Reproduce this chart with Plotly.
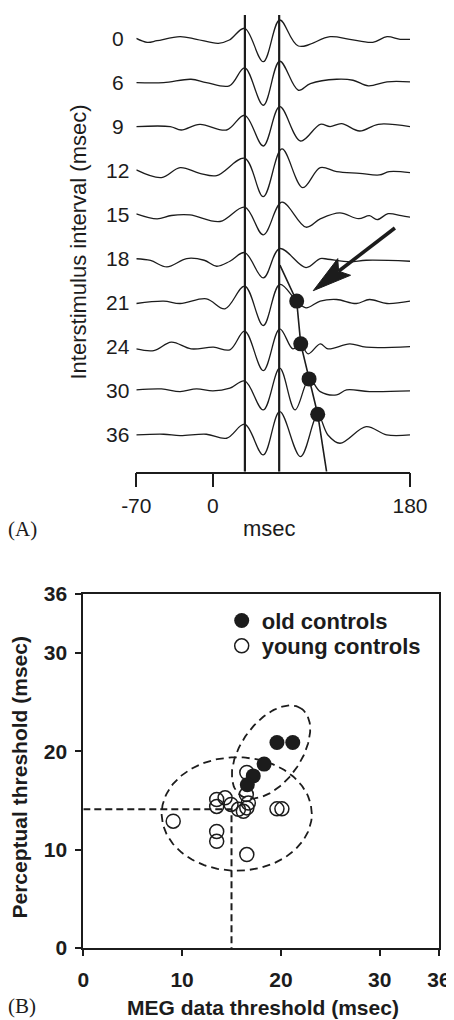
import numpy as np
import plotly.graph_objects as go

# The page body adds an 8px margin, so the figure is drawn 8px in from the
# top-left corner of the 454x1020 window; size it to fill the rest exactly.
PAGE_W, PAGE_H, BODY = 454, 1020, 8
W, H = PAGE_W - BODY, PAGE_H - BODY
FONT = "Liberation Sans, Arial, Helvetica, sans-serif"
SERIF = "Liberation Serif, Times New Roman, serif"
INK = "#1c1c1c"

# ---------------- Panel A data (MEG waveforms, ms vs amplitude) ----------------
isi_labels = ["0", "6", "9", "12", "15", "18", "21", "24", "30", "36"]
row_gap = 44.05  # vertical offset between stacked waveforms (amplitude units)

t_isi0 = [-70, -60, -51, -30, -15, 5, 15, 29, 46, 61, 78, 107, 125, 146, 159, 171, 180]
a_isi0 = [0.2, -3.8, -2.2, 1.8, -0.8, -4.8, -1.5, 10.2, -23.2, 18.5, -7.5, 1.8, -0.8, -3.8, 1.8, -0.8, -0.8]

t_isi6 = [-70, -45, -20, -6, 15, 29, 46, 61, 78, 89, 113, 128, 142, 159, 180]
a_isi6 = [0, 0, 3.3, 0, -3.3, 14.7, -22.7, 21.3, -7.7, -1, 3.3, 2.3, -3.3, 0.7, 0.7]

t_isi9 = [-70, -39, -29, -12, 12.5, 29, 46, 61, 80, 98, 107, 117.5, 134, 151, 180]
a_isi9 = [0, 0, -3.4, 2.3, -3.4, 11.3, -19.4, 20, -14.4, 2.3, 0, 3, -4.4, 2.3, 0]

t_isi12 = [-70, -47, -30, -12, 3.4, 29, 46, 63, 82, 98, 113, 134, 152, 161, 180]
a_isi12 = [0.7, -7, 3, -2.7, -5, 12.3, -26, 21.7, -17, 3, -1, -2.7, -4.3, -1, -2]

t_isi15 = [-70, -51, -38, -21, 6.5, 29, 46, 63, 85, 98, 116, 133, 143, 150, 160, 172, 180]
a_isi15 = [0.8, -4.2, -0.8, -0.2, -6.8, 7.5, -20.2, 12.5, -12.5, -4.2, 1.8, -4, -1, -5, 1, -1, -2.5]

t_isi18 = [-70, -57, -42, -24, -8, 3.4, 15.5, 29, 46, 61, 85, 98, 105, 125, 140, 180]
a_isi18 = [0, -1.7, -8.2, 0.2, -1.5, -7.5, -2.5, 6.2, -19.2, 10.2, -8.8, 0.2, -0.5, -3.2, -1.5, -2.5]

t_isi21 = [-70, -45, -30, -6, 11, 29, 46, 61, 76.5, 85, 98, 113, 131, 143, 159, 180]
a_isi21 = [-0.7, 1.7, -0.7, 4, -6, 16.7, -22.7, 18.3, 1.7, -5, 1.7, 3.3, -0.7, 3.3, -0.7, 1.7]

t_isi24 = [-70, -54, -38, -20, 0.5, 15.5, 29, 46, 61, 73, 80, 87, 98, 105, 125, 140, 180]
a_isi24 = [-2, -3.7, 4.7, -2, -0.3, -3, 15.7, -23.7, 18, -2, 3, -7, 3, -2, 3, -0.3, 0.3]

t_isi30 = [-70, -47, -30, -15, 0, 15.5, 29, 46, 61, 75, 88, 98, 113, 122, 143, 180]
a_isi30 = [1, 2, -0.7, 2, 0, 2.7, 10, -19, 22.7, -19, 12, -0.7, -4, 1, -0.7, 0]

t_isi36 = [-70, -45, -30, -6, 12.5, 29, 46, 61, 80, 95.7, 105, 116, 140, 158.6, 180]
a_isi36 = [0, 0.7, -0.7, 0.7, -3.3, 10.7, -20, 23.3, -21.7, 20, 0, -8.3, 8.3, 0, 0]

ref_lines_ms = [29.2, 60.5]          # the two vertical reference lines
xA_ticks = [-70, 0, 180]

# late-peak markers (ISI, latency ms, amplitude)
peak_isi = ["21", "24", "30", "36"]
peak_lat = [76.5, 80.2, 87.8, 95.7]
peak_amp = [1.7, 3.0, 12.0, 20.7]
slope_start = (61.2, "18", -6.3)      # latency, ISI row, amplitude
slope_end_ms = 103.8

arrow_tail = (166.2, -189.5)          # (ms, stacked amplitude units)
arrow_tip = (91.6, -252.2)

# ---------------- Panel B data ----------------
old_x = [19.6, 21.2, 18.3, 17.2, 16.6]
old_y = [20.9, 20.9, 18.7, 17.5, 16.6]
young_x = [16.55, 16.5, 13.5, 14.35, 13.5, 14.95, 15.7, 16.2, 16.55, 16.7, 19.6, 20.1, 9.1, 13.5, 13.5, 16.55]
young_y = [17.85, 15.6, 15.1, 15.27, 14.4, 14.6, 14.1, 13.9, 14.25, 14.75, 14.15, 14.15, 12.9, 11.85, 10.85, 9.5]
thr_x = 15.0
thr_y = 14.1
ellipse_young = dict(cx=15.53, cy=13.63, a=7.6, b=5.77, ang=0.0)
ellipse_old = dict(cx=19.0, cy=19.93, a=5.38, b=3.04, ang=55.0)
xyB_ticks = [0, 10, 20, 30, 36]

# ---------------- geometry (window pixels -> paper fractions) ----------------
def px(xp):
    return (xp - BODY) / W

def py(yp):
    return 1 - (yp - BODY) / H

A_left, A_right = 136.3, 410.0
A_top, A_bottom = 10.0, 471.7
A_base0 = 38.5
yA_range = [A_base0 - A_bottom, A_base0 - A_top]  # 1 unit == 1 px
line_top = A_base0 - 15.0

B_left, B_right = 83.3, 439.0
B_top, B_bottom = 594.0, 948.0

fig = go.Figure()

rows = [(isi_labels[0], t_isi0, a_isi0), (isi_labels[1], t_isi6, a_isi6),
        (isi_labels[2], t_isi9, a_isi9), (isi_labels[3], t_isi12, a_isi12),
        (isi_labels[4], t_isi15, a_isi15), (isi_labels[5], t_isi18, a_isi18),
        (isi_labels[6], t_isi21, a_isi21), (isi_labels[7], t_isi24, a_isi24),
        (isi_labels[8], t_isi30, a_isi30), (isi_labels[9], t_isi36, a_isi36)]

def row_off(label):
    return -isi_labels.index(label) * row_gap

for lab, t, a in rows:
    off = row_off(lab)
    fig.add_trace(go.Scatter(x=t, y=[off + v for v in a], mode="lines",
                             line=dict(color=INK, width=1.3, shape="spline", smoothing=1.0),
                             xaxis="x", yaxis="y", showlegend=False, hoverinfo="skip"))
    fig.add_annotation(x=px(117.5), xref="paper", y=off, yref="y", text=lab, showarrow=False,
                       font=dict(family=FONT, size=21, color=INK), xanchor="center", yanchor="middle")

for v in ref_lines_ms:
    fig.add_shape(type="line", xref="x", yref="y", x0=v, x1=v, y0=line_top, y1=yA_range[0],
                  line=dict(color=INK, width=2.2))

# slope line through late peaks
sx = [slope_start[0]] + peak_lat + [slope_end_ms]
sy = ([row_off(slope_start[1]) + slope_start[2]] +
      [row_off(r) + a for r, a in zip(peak_isi, peak_amp)] + [yA_range[0]])
fig.add_trace(go.Scatter(x=sx, y=sy, mode="lines", line=dict(color=INK, width=1.6),
                         xaxis="x", yaxis="y", showlegend=False, hoverinfo="skip"))
fig.add_trace(go.Scatter(x=peak_lat, y=[row_off(r) + a for r, a in zip(peak_isi, peak_amp)],
                         mode="markers", marker=dict(color=INK, size=15),
                         xaxis="x", yaxis="y", showlegend=False, hoverinfo="skip"))

# arrow (shaft + notched head), built in pixel space from tip/tail
kx = (A_right - A_left) / (180 - (-70))
ky = 1.0
dx = (arrow_tip[0] - arrow_tail[0]) * kx
dy = (arrow_tip[1] - arrow_tail[1]) * ky
L = np.hypot(dx, dy)
ux, uy = dx / L, dy / L
nx_, ny_ = -uy, ux
head_len, half_w, notch = 39.0, 10.5, 7.0
pts = [(0, 0),
       (-head_len * ux + half_w * nx_, -head_len * uy + half_w * ny_),
       (-(head_len - notch) * ux, -(head_len - notch) * uy),
       (-head_len * ux - half_w * nx_, -head_len * uy - half_w * ny_),
       (0, 0)]
hx = [arrow_tip[0] + p[0] / kx for p in pts]
hy = [arrow_tip[1] + p[1] / ky for p in pts]
fig.add_trace(go.Scatter(x=[arrow_tail[0], hx[2]], y=[arrow_tail[1], hy[2]], mode="lines",
                         line=dict(color=INK, width=3.6), xaxis="x", yaxis="y",
                         showlegend=False, hoverinfo="skip"))
fig.add_trace(go.Scatter(x=hx, y=hy, mode="lines", fill="toself", fillcolor=INK,
                         line=dict(color=INK, width=1), xaxis="x", yaxis="y",
                         showlegend=False, hoverinfo="skip"))

# ---------------- Panel B ----------------
def ellipse(e, n=200):
    th = np.linspace(0, 2 * np.pi, n)
    c, s = np.cos(np.radians(e["ang"])), np.sin(np.radians(e["ang"]))
    ex = e["a"] * np.cos(th)
    ey = e["b"] * np.sin(th)
    return e["cx"] + ex * c - ey * s, e["cy"] + ex * s + ey * c

for e in (ellipse_young, ellipse_old):
    ex, ey = ellipse(e)
    fig.add_trace(go.Scatter(x=ex, y=ey, mode="lines",
                             line=dict(color=INK, width=1.8, dash="8px,5px"),
                             xaxis="x2", yaxis="y2", showlegend=False, hoverinfo="skip"))

fig.add_trace(go.Scatter(x=[0, thr_x, thr_x], y=[thr_y, thr_y, 0], mode="lines",
                         line=dict(color=INK, width=2, dash="7px,4px"),
                         xaxis="x2", yaxis="y2", showlegend=False, hoverinfo="skip"))

fig.add_trace(go.Scatter(x=young_x, y=young_y, mode="markers", name="young controls",
                         marker=dict(symbol="circle-open", size=14, color=INK, line=dict(width=1.5)),
                         xaxis="x2", yaxis="y2", legend="legend2", cliponaxis=False))
fig.add_trace(go.Scatter(x=old_x, y=old_y, mode="markers", name="old controls",
                         marker=dict(symbol="circle", size=15, color=INK),
                         xaxis="x2", yaxis="y2", legend="legend", cliponaxis=False))

# ---------------- text ----------------
def note(text, x, y, size, bold=False, family=FONT, angle=0):
    fig.add_annotation(x=px(x), y=py(y), xref="paper", yref="paper", text=text, showarrow=False,
                       textangle=angle, xanchor="center", yanchor="middle",
                       font=dict(family=family, size=size, color=INK,
                                 weight="bold" if bold else "normal"))

note("Interstimulus interval (msec)", 77.5, 242, 22, angle=-90)
note("msec", 269, 528, 22)
note("(A)", 22.5, 529, 21, family=SERIF)
note("Perceptual threshold (msec)", 18.5, 778, 21, bold=True, angle=-90)
note("MEG data threshold (msec)", 263, 1007, 21, bold=True)
note("(B)", 22.5, 1006, 21, family=SERIF)

axB = dict(range=[0, 36], showline=True, mirror=True, linecolor=INK, linewidth=2,
           ticks="outside", ticklen=6, tickwidth=2, tickcolor=INK,
           tickvals=xyB_ticks, ticktext=[str(v) for v in xyB_ticks],
           tickfont=dict(family=FONT, size=21, color=INK, weight="bold"),
           showgrid=False, zeroline=False, fixedrange=True, automargin=False)

leg = dict(xanchor="left", yanchor="middle", bgcolor="rgba(0,0,0,0)", borderwidth=0,
           font=dict(family=FONT, size=22, color=INK, weight="bold"), itemsizing="trace")

fig.update_layout(
    width=W, height=H, autosize=False,
    margin=dict(l=0, r=0, t=0, b=0, pad=0, autoexpand=False),
    paper_bgcolor="white", plot_bgcolor="rgba(0,0,0,0)",
    xaxis=dict(domain=[px(A_left), px(A_right)], range=[-70, 180], anchor="y",
               showline=True, linecolor=INK, linewidth=1.5, ticks="outside", ticklen=14,
               tickwidth=1.5, tickcolor=INK, tickvals=xA_ticks, ticktext=[str(v) for v in xA_ticks],
               tickfont=dict(family=FONT, size=21, color=INK), ticklabelstandoff=0,
               showgrid=False, zeroline=False, fixedrange=True, automargin=False),
    yaxis=dict(domain=[py(A_bottom), py(A_top)], range=yA_range, visible=False, fixedrange=True),
    xaxis2=dict(axB, domain=[px(B_left), px(B_right)], anchor="y2", ticklabelstandoff=6),
    yaxis2=dict(axB, domain=[py(B_bottom), py(B_top)], anchor="x2", ticklabelstandoff=4),
    legend=dict(leg, x=px(221.7), y=py(620.7)),
    legend2=dict(leg, x=px(221.7), y=py(646)),
)

fig.write_html("out.html")
